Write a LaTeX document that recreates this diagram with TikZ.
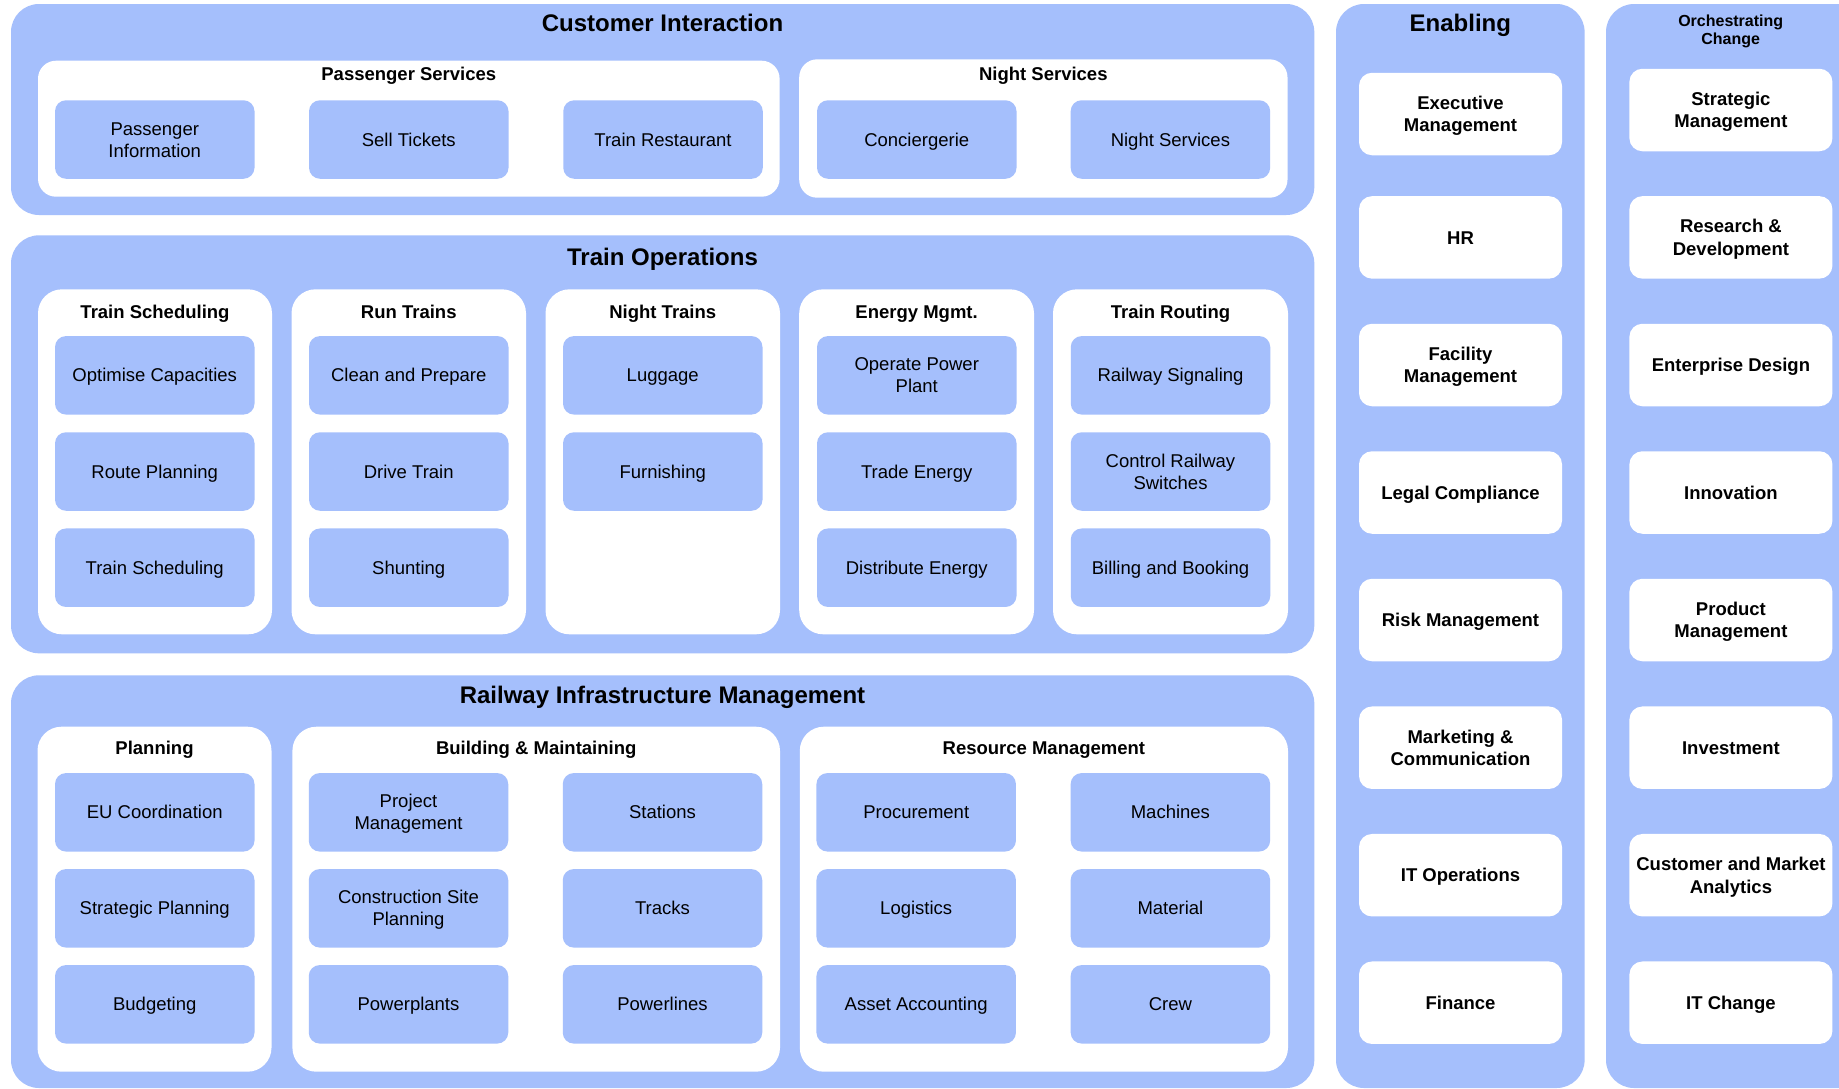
\documentclass[tikz,border=0pt]{standalone}
\usepackage{fontspec}
\setmainfont{Liberation Sans}
\definecolor{cblue}{RGB}{165,191,252}
\newcommand\tw[2]{\vtop{\halign{\hfil##\hfil\cr#1\cr#2\cr}}}
\newcommand\fsTitle{\fontsize{24}{28}\selectfont\bfseries}
\newcommand\fsSub{\fontsize{18.5}{22}\selectfont\bfseries}
\newcommand\fsBox{\fontsize{18.5}{22}\selectfont}
\newcommand\fsBold{\fontsize{18.5}{22.5}\selectfont\bfseries}
\newcommand\fsOrch{\fontsize{16}{18}\selectfont\bfseries}
\begin{document}
\begin{tikzpicture}[x=1pt,y=-1pt,
  outerbox/.style={fill=cblue, rounded corners=28pt},
  innerA/.style={fill=white, rounded corners=18pt},
  innerB/.style={fill=white, rounded corners=24pt},
  bbox/.style={fill=cblue, rounded corners=11pt, inner sep=0pt, minimum width=199.5pt, minimum height=78.5pt, font=\fsBox, text height=13.3pt, text depth=0pt},
  bboxii/.style={bbox, text depth=22pt},
  wbox/.style={fill=white, rounded corners=13pt, inner sep=0pt, minimum width=203pt, minimum height=82.5pt, font=\fsBold, text height=13.3pt, text depth=0pt},
  wboxii/.style={wbox, text depth=22.5pt},
  titletext/.style={anchor=base, font=\fsTitle, inner sep=0pt},
  subtext/.style={anchor=base, font=\fsSub, inner sep=0pt}]
\useasboundingbox (0,0) rectangle (1839,1088);
\fill[white] (0,0) rectangle (1839,1088);

% ---------- outer containers ----------
\fill[outerbox] (11,4) rectangle (1314.3,215);
\fill[outerbox] (11,235.3) rectangle (1314.3,653.3);
\fill[outerbox] (11,675.3) rectangle (1314.3,1088);
\fill[outerbox] (1336,4) rectangle (1584.6,1088);
\fill[outerbox] (1606,4) rectangle (1880,1088);

% ---------- inner containers ----------
\fill[innerA] (38,60.7) rectangle (779.6,196.7);
\fill[innerA] (799.2,59.3) rectangle (1287.5,197.7);
\foreach \a/\b in {38/272, 291.5/526, 545.5/780, 799.2/1034, 1053/1288}
  \fill[innerB] (\a,289.3) rectangle (\b,634.3);
\fill[innerB] (37.5,726.7) rectangle (271.5,1071.7);
\fill[innerB] (292.4,726.7) rectangle (780,1071.7);
\fill[innerB] (799.8,726.7) rectangle (1288,1071.7);

% ---------- titles ----------
\node[titletext] (tci) at (662.5,31.7) {Customer Interaction};
\node[titletext] (tto) at (662.5,265.7) {Train Operations};
\node[titletext] (tri) at (662.5,703.3) {Railway Infrastructure Management};
\node[titletext] (ten) at (1460.3,31.7) {Enabling};
\node[anchor=base, inner sep=0pt, font=\fsOrch] (tor) at (1730.7,26) {\tw{Orchestrating}{Change}};

% ---------- subtitles ----------
\node[subtext] (sps) at (408.8,80) {Passenger Services};
\node[subtext] (sns) at (1043.3,80) {Night Services};
\node[subtext] (sts) at (155,318.3) {Train Scheduling};
\node[subtext] (srt) at (408.75,318.3) {Run Trains};
\node[subtext] (snt) at (662.75,318.3) {Night Trains};
\node[subtext] (sem) at (916.6,318.3) {Energy Mgmt.};
\node[subtext] (str) at (1170.5,318.3) {Train Routing};
\node[subtext] (spl) at (154.5,754.5) {Planning};
\node[subtext] (sbm) at (536.2,754.5) {Building \& Maintaining};
\node[subtext] (srm) at (1043.9,754.5) {Resource Management};

% ---------- Customer Interaction ----------
\node[bboxii] (pinfo) at (154.75,139.5) {\tw{Passenger}{Information}};
\node[bbox] (sell) at (408.75,139.5) {Sell Tickets};
\node[bbox] (rest) at (663,139.5) {Train Restaurant};
\node[bbox] (conc) at (916.75,139.5) {Conciergerie};
\node[bbox] (nserv) at (1170.4,139.5) {Night Services};

% ---------- Train Operations ----------
\node[bbox] (optc) at (154.75,375.3) {Optimise Capacities};
\node[bbox] (rplan) at (154.75,471.5) {Route Planning};
\node[bbox] (tsch) at (154.75,567.7) {Train Scheduling};
\node[bbox] (clean) at (408.75,375.3) {Clean and Prepare};
\node[bbox] (drive) at (408.75,471.5) {Drive Train};
\node[bbox] (shunt) at (408.75,567.7) {Shunting};
\node[bbox] (lugg) at (662.75,375.3) {Luggage};
\node[bbox] (furn) at (662.75,471.5) {Furnishing};
\node[bboxii] (opp) at (916.75,375.3) {\tw{Operate Power}{Plant}};
\node[bbox] (trade) at (916.75,471.5) {Trade Energy};
\node[bbox] (distr) at (916.75,567.7) {Distribute Energy};
\node[bbox] (rsig) at (1170.5,375.3) {Railway Signaling};
\node[bboxii] (crs) at (1170.5,471.5) {\tw{Control Railway}{Switches}};
\node[bbox] (bill) at (1170.5,567.7) {Billing and Booking};

% ---------- Railway Infrastructure Management ----------
\node[bbox] (euc) at (154.75,812.3) {EU Coordination};
\node[bbox] (stp) at (154.75,908.3) {Strategic Planning};
\node[bbox] (budg) at (154.75,1004.3) {Budgeting};
\node[bboxii] (pm) at (408.5,812.3) {\tw{Project}{Management}};
\node[bboxii] (csp) at (408.5,908.3) {\tw{Construction Site}{Planning}};
\node[bbox] (pplants) at (408.5,1004.3) {Powerplants};
\node[bbox] (stat) at (662.5,812.3) {Stations};
\node[bbox] (tracks) at (662.5,908.3) {Tracks};
\node[bbox] (plines) at (662.5,1004.3) {Powerlines};
\node[bbox] (proc) at (916.2,812.3) {Procurement};
\node[bbox] (logi) at (916.2,908.3) {Logistics};
\node[bbox] (asset) at (916.2,1004.3) {Asset Accounting};
\node[bbox] (mach) at (1170.4,812.3) {Machines};
\node[bbox] (mat) at (1170.4,908.3) {Material};
\node[bbox] (crew) at (1170.4,1004.3) {Crew};

% ---------- Enabling ----------
\node[wboxii] (exec) at (1460.5,114) {\tw{Executive}{Management}};
\node[wbox] (hr) at (1460.5,237.4) {HR};
\node[wboxii] (fac) at (1460.5,365) {\tw{Facility}{Management}};
\node[wbox] (legal) at (1460.5,492.5) {Legal Compliance};
\node[wbox] (risk) at (1460.5,620) {Risk Management};
\node[wboxii] (mkt) at (1460.5,747.7) {\tw{Marketing \&}{Communication}};
\node[wbox] (itops) at (1460.5,875.2) {IT Operations};
\node[wbox] (fin) at (1460.5,1002.7) {Finance};

% ---------- Orchestrating Change ----------
\node[wboxii] (strm) at (1730.9,110) {\tw{Strategic}{Management}};
\node[wboxii] (rnd) at (1730.9,237.4) {\tw{Research \&}{Development}};
\node[wbox] (entd) at (1730.9,365) {Enterprise Design};
\node[wbox] (innov) at (1730.9,492.5) {Innovation};
\node[wboxii] (prodm) at (1730.9,620) {\tw{Product}{Management}};
\node[wbox] (invest) at (1730.9,747.7) {Investment};
\node[wboxii] (cma) at (1730.9,875.2) {\tw{Customer and Market}{Analytics}};
\node[wbox] (itch) at (1730.9,1002.7) {IT Change};
\end{tikzpicture}
\end{document}
